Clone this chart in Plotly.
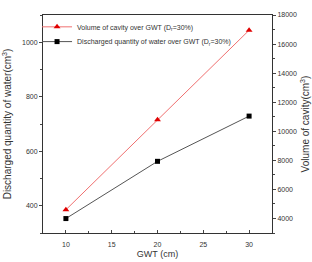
import plotly.graph_objects as go

gwt = [10, 20, 30]
volume_cavity = [4600, 10800, 16950]
discharged_water = [353, 563, 729]

x_ticks = [10, 15, 20, 25, 30]
left_ticks = [400, 600, 800, 1000]
right_ticks = [4000, 6000, 8000, 10000, 12000, 14000, 16000, 18000]

FONT = "Liberation Sans, Arial, sans-serif"
TXT = "#333333"

fig = go.Figure()
fig.add_trace(go.Scatter(
    x=gwt, y=volume_cavity, yaxis="y2", mode="lines+markers",
    name="Volume of cavity over GWT (D<sub>r</sub>=30%)",
    line=dict(color="#f07070", width=1),
    marker=dict(symbol="triangle-up", size=6, color="#e00000"),
    legend="legend",
))
fig.add_trace(go.Scatter(
    x=gwt, y=discharged_water, yaxis="y", mode="lines+markers",
    name="Discharged quantity of water over GWT (D<sub>r</sub>=30%)",
    line=dict(color="#555555", width=1),
    marker=dict(symbol="square", size=5, color="#000000"),
    legend="legend2",
))

leg_common = dict(xanchor="left", yanchor="middle", bgcolor="rgba(0,0,0,0)",
                  font=dict(size=7, color=TXT), itemwidth=30)

fig.update_layout(
    width=312, height=262,
    margin=dict(l=43, r=40, t=12, b=29),
    paper_bgcolor="white", plot_bgcolor="white",
    font=dict(family=FONT, size=7, color=TXT),
    showlegend=True,
    legend=dict(x=-0.026, y=0.9457, **leg_common),
    legend2=dict(x=-0.026, y=0.878, **leg_common),
    xaxis=dict(range=[7.5, 32.5], tickvals=x_ticks, ticks="inside", ticklen=3,
               ticklabelstandoff=5, automargin=False,
               showgrid=False, zeroline=False, showline=True, linecolor="#333",
               linewidth=1, mirror=True,
               minor=dict(ticks="inside", ticklen=2, dtick=2.5, tick0=0, showgrid=False),
               title=dict(text="GWT (cm)", font=dict(size=9, color=TXT), standoff=3),
               tickfont=dict(size=7, color=TXT)),
    yaxis=dict(range=[300, 1100], tickvals=left_ticks, ticks="outside", ticklen=3,
               automargin=False,
               showgrid=False, zeroline=False, showline=True, linecolor="#333",
               linewidth=1,
               minor=dict(ticks="outside", ticklen=2, dtick=100, tick0=0, showgrid=False),
               title=dict(text="Discharged quantity of water(cm<sup>3</sup>)",
                          font=dict(size=10, color=TXT), standoff=8),
               tickfont=dict(size=7, color=TXT)),
    yaxis2=dict(range=[3000, 18000], tickvals=right_ticks, tickformat="d",
                overlaying="y", side="right", automargin=False,
                ticks="outside", ticklen=3, showgrid=False, zeroline=False,
                showline=True, linecolor="#333", linewidth=1,
                minor=dict(ticks="outside", ticklen=2, dtick=1000, tick0=0, showgrid=False),
                title=dict(text="Volume of cavity(cm<sup>3</sup>)",
                           font=dict(size=10, color=TXT), standoff=6),
                tickfont=dict(size=7, color=TXT)),
)

fig.write_html("out.html")
